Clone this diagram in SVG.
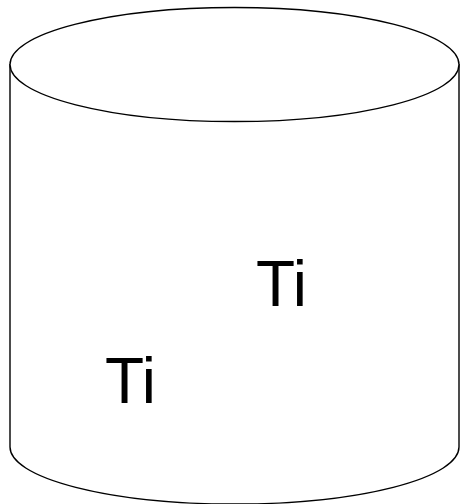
<svg xmlns="http://www.w3.org/2000/svg" width="460" height="504" viewBox="0 0 460 504">
<style>
.shape{fill:#fff;stroke:#000;stroke-width:1.4}
.lbl{font-family:"Liberation Sans",Arial,sans-serif;font-size:64px;fill:#000}
</style>
<rect width="460" height="504" fill="#fff"/>
<g id="cylinder">
<path class="shape" d="M10,64 L10,447 A224.5,57 0 0 0 459,447 L459,64"/>
<ellipse class="shape" cx="234.5" cy="64.5" rx="224.5" ry="57"/>
</g>
<g id="label1"><text class="lbl" x="256" y="306">Ti</text></g>
<g id="label2"><text class="lbl" x="105" y="403">Ti</text></g>
</svg>
